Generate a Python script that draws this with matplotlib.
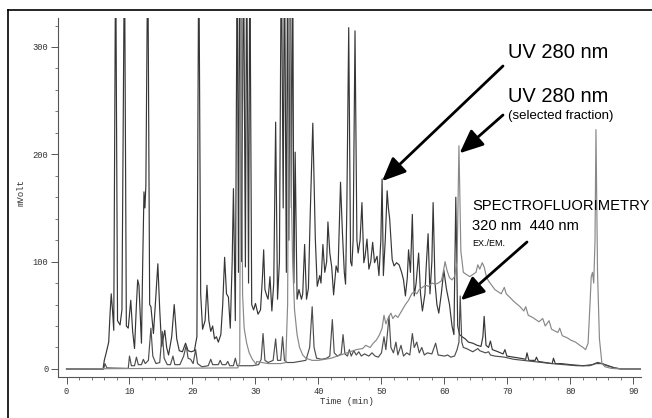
import matplotlib
matplotlib.use("Agg")
import matplotlib.pyplot as plt
from matplotlib.lines import Line2D
import numpy as np

# ---- data: vertices (time in min, signal in mVolt) ----
# UV 280 nm, whole sample (off-scale peaks are given a nominal 400 mV apex)
A_TIME = [0, 5.8, 6.0, 6.3, 6.7, 6.9, 7.1, 7.3, 7.5, 7.8, 8.1, 8.5, 8.8, 9.2, 9.5, 9.8,
          10.2, 10.5, 10.8, 11.1, 11.3, 11.5, 11.9, 12.1, 12.3, 12.45, 12.6, 12.9, 13.2,
          13.4, 13.8, 14.1, 14.5, 14.8, 15.1, 15.6, 15.9, 16.2, 16.7, 17.1, 17.5, 17.9,
          18.4, 18.9, 19.3, 19.8, 20.3, 20.7, 21.0, 21.3, 21.6, 22.0, 22.3, 22.6, 22.9,
          23.2, 23.5, 23.8, 24.1, 24.5, 24.8, 25.1, 25.4, 25.7, 26.0, 26.3, 26.5, 26.8,
          27.1, 27.3, 27.5, 27.8, 28.1, 28.4, 28.6, 28.9, 29.1, 29.4, 29.7, 30.0, 30.4,
          30.8, 31.1, 31.3, 31.5, 31.8, 32.0, 32.3, 32.6, 32.9, 33.2, 33.5, 33.8, 34.1,
          34.4, 34.6, 34.9, 35.1, 35.3, 35.5, 35.7, 35.9, 36.1, 36.3, 36.6, 36.9, 37.3,
          37.5, 37.8, 38.1, 38.4, 38.7, 39.1, 39.5, 39.8, 40.2, 40.4, 40.7, 41.0, 41.3,
          41.5, 41.8, 42.1, 42.4, 42.8, 43.1, 43.5, 43.8, 44.1, 44.3, 44.5, 44.8, 45.1,
          45.3, 45.5, 45.8, 46.1, 46.3, 46.6, 46.9, 47.2, 47.4, 47.7, 48.0, 48.3, 48.6,
          48.9, 49.3, 49.6, 49.9, 50.1, 50.3, 50.6, 50.9, 51.1, 51.3, 51.7, 52.0, 52.4,
          52.8, 53.2, 53.5, 53.8, 54.1, 54.3, 54.6, 54.9, 55.2, 55.5, 55.9, 56.2, 56.5,
          56.9, 57.1, 57.4, 57.7, 58.0, 58.2, 58.5, 58.8, 59.1, 59.5, 59.9, 60.3, 60.8,
          61.2, 61.5, 61.8, 62.1, 62.4, 62.8, 63.3, 63.8, 64.5, 65.2, 65.8, 66.1, 66.3,
          66.6, 67.0, 67.3, 67.6, 68.5, 69.3, 69.6, 69.9, 71.0, 72.0, 72.9, 73.1, 73.4,
          74.4, 74.6, 74.9, 76.0, 77.1, 77.3, 77.6, 78.5, 80.0, 82.0, 83.5, 84.3, 85.0,
          86.0, 87.0, 88.0, 91.5]
A_MV = [0, 0, 8, 15, 25, 50, 70, 55, 36, 400, 45, 41, 55, 400, 40, 38,
        64, 35, 19, 60, 83, 78, 24, 100, 165, 150, 171, 400, 60,
        58, 33, 60, 98, 55, 21, 36, 20, 13, 30, 60, 28, 17,
        16, 24, 17, 16, 17, 30, 400, 70, 37, 45, 78, 45, 35,
        40, 28, 30, 25, 32, 60, 104, 70, 67, 38, 100, 168, 45,
        400, 90, 400, 100, 400, 95, 400, 80, 400, 60, 55, 61, 51,
        55, 85, 111, 74, 68, 65, 86, 54, 80, 230, 65, 100, 400,
        150, 400, 90, 400, 120, 400, 150, 400, 80, 202, 65, 74, 65,
        70, 116, 65, 75, 146, 229, 121, 77, 87, 80, 116, 90, 100,
        137, 108, 95, 69, 96, 90, 174, 127, 90, 79, 150, 318, 100,
        96, 120, 315, 120, 108, 120, 155, 99, 105, 121, 93, 100, 118,
        99, 105, 87, 120, 177, 87, 120, 166, 150, 140, 102, 96, 99,
        97, 90, 83, 68, 85, 111, 90, 144, 68, 80, 108, 70, 54,
        70, 95, 126, 70, 100, 155, 80, 60, 52, 70, 92, 75, 60,
        40, 32, 160, 40, 32, 30, 28, 25, 24, 22, 21, 30, 49,
        22, 20, 26, 18, 16, 14, 18, 12, 11, 10, 9, 15, 8,
        8, 11, 7, 6, 5, 10, 5, 5, 4, 3, 4, 6, 5,
        3, 1, 0, 0]

# UV 280 nm, selected fraction
B_TIME = [0, 27.2, 27.5, 27.7, 27.95, 28.2, 28.6, 29.0, 29.5, 29.9, 30.1, 30.2, 31.0,
          32.0, 33.0, 34.0, 34.8, 35.1, 35.4, 35.7, 35.9, 36.2, 36.6, 37.0, 37.5, 38.0,
          39.0, 40.0, 41.0, 42.0, 43.0, 44.0, 45.0, 46.0, 47.0, 47.5, 48.2, 48.7, 49.2,
          49.7, 50.1, 50.4, 50.7, 51.1, 51.5, 51.8, 52.2, 52.6, 53.0, 53.4, 53.8, 54.3,
          54.8, 55.2, 55.6, 56.0, 56.5, 57.0, 57.5, 58.0, 58.6, 59.0, 59.5, 59.8, 60.1,
          60.4, 60.8, 61.2, 61.6, 62.0, 62.3, 62.6, 63.0, 63.5, 64.0, 64.5, 65.0, 65.3,
          65.6, 66.0, 66.3, 66.7, 67.0, 67.5, 68.0, 68.5, 69.0, 69.5, 69.8, 70.5, 71.0,
          72.0, 72.6, 72.9, 73.3, 74.0, 75.0, 75.6, 76.0, 76.6, 77.0, 78.0, 78.3, 78.7,
          79.5, 80.0, 80.8, 81.5, 82.0, 82.4, 82.8, 83.1, 83.3, 83.5, 83.7, 83.9, 84.05,
          84.3, 84.6, 85.0, 85.5, 86.5, 88.0, 91.5]
B_MV = [0, 1, 6, 400, 70, 38, 24, 15, 9, 6, 4, 7, 6,
        5, 5, 5, 6, 60, 400, 160, 100, 55, 32, 20, 13, 10,
        8, 8, 9, 10, 12, 14, 16, 18, 19, 22, 20, 24, 27,
        32, 38, 50, 42, 48, 52, 47, 50, 48, 52, 56, 60, 64,
        70, 72, 70, 74, 76, 78, 77, 80, 79, 80, 82, 90, 100,
        92, 85, 83, 86, 100, 208, 110, 90, 88, 86, 88, 90, 97,
        93, 99, 95, 85, 82, 78, 74, 72, 70, 76, 70, 66, 63,
        58, 54, 58, 50, 48, 44, 47, 40, 45, 37, 34, 38, 31,
        29, 27, 25, 22, 20, 18, 24, 60, 86, 90, 80, 120, 223,
        90, 28, 5, 2, 0.5, 0, 0]

# spectrofluorimetry, ex 320 nm / em 440 nm
C_TIME = [0, 5.9, 6.1, 6.4, 9.8, 10.0, 10.3, 10.8, 11.1, 11.4, 11.9, 12.2, 12.5, 13.0,
          13.4, 13.7, 14.2, 14.8, 15.2, 15.5, 16.0, 16.5, 16.9, 17.2, 18.0, 18.6, 19.0,
          19.3, 19.7, 20.1, 20.5, 20.8, 21.5, 22.5, 22.9, 23.2, 24.1, 24.4, 24.7, 25.3,
          25.6, 25.9, 26.5, 26.8, 27.1, 29.5, 30.5, 30.9, 31.2, 31.5, 32.0, 32.8, 33.2,
          33.5, 34.0, 34.3, 34.6, 35.0, 36.0, 37.0, 38.0, 38.6, 39.0, 39.3, 39.7, 40.5,
          41.3, 41.8, 42.2, 42.5, 43.0, 43.6, 43.9, 44.2, 44.6, 44.9, 45.2, 45.6, 46.0,
          46.4, 46.8, 47.3, 48.0, 48.5, 49.0, 49.5, 50.0, 50.4, 50.7, 51.2, 51.5, 51.9,
          52.3, 52.6, 53.1, 53.5, 54.0, 54.5, 54.9, 55.2, 55.6, 56.0, 56.4, 56.8, 57.3,
          58.0, 58.6, 59.0, 60.0, 60.5, 61.0, 61.6, 62.0, 62.3, 62.5, 62.75, 63.0, 63.5,
          64.5, 65.3, 65.6, 66.5, 67.0, 67.3, 68.0, 69.5, 71.0, 72.5, 74.0, 75.5, 77.0,
          79.0, 81.0, 83.0, 84.0, 85.0, 85.8, 87.0, 88.0, 91.5]
C_MV = [0, 0, 5, 1, 0.5, 12, 3, 3, 11, 4, 4, 9, 5, 8,
        38, 12, 5, 6, 35, 10, 4, 4, 12, 4, 4, 12, 22,
        10, 9, 5, 18, 5, 2, 3, 9, 4, 4, 8, 4, 4,
        7, 3, 3, 10, 3, 3, 4, 9, 33, 8, 6, 8, 28,
        8, 8, 30, 8, 6, 6, 7, 8, 20, 58, 20, 10, 9,
        10, 12, 46, 15, 12, 14, 32, 14, 12, 18, 12, 17, 13,
        16, 12, 14, 12, 15, 12, 11, 15, 30, 18, 49, 20, 15,
        25, 13, 22, 12, 15, 13, 33, 20, 25, 15, 20, 13, 15,
        14, 24, 13, 12, 13, 11, 12, 18, 25, 68, 25, 20, 19,
        16, 19, 17, 15, 16, 13, 12, 11, 9, 8, 7, 6, 5,
        4, 3, 3, 5, 5, 3, 1, 0, 0]

X_TICKS = [0, 10, 20, 30, 40, 50, 60, 70, 80, 90]
Y_TICKS = [0, 100, 200, 300]


def apex(times, values, lo, hi):
    t = np.asarray(times)
    v = np.asarray(values)
    m = (t >= lo) & (t <= hi)
    i = np.argmax(np.where(m, v, -1))
    return t[i], v[i]


W, H = 652, 418
fig = plt.figure(figsize=(W / 100, H / 100), dpi=100)
ax = fig.add_axes([58 / W, 1 - 377 / H, (641 - 58) / W, (377 - 18) / H])

ax.plot(A_TIME, A_MV, color="#363636", lw=0.85)
ax.plot(C_TIME, C_MV, color="#4e4e4e", lw=0.85)
ax.plot(B_TIME, B_MV, color="#888888", lw=0.85)

ax.set_xlim(-1.35, 91.2)
ax.set_ylim(-7.5, 327)
for s in ("top", "right"):
    ax.spines[s].set_visible(False)
for s in ("left", "bottom"):
    ax.spines[s].set_color("#555555")
    ax.spines[s].set_linewidth(0.8)

mono = "Liberation Mono"
ax.set_xticks(X_TICKS)
ax.set_yticks(Y_TICKS)
ax.set_xticks(np.arange(0, 92, 2), minor=True)
ax.set_yticks(np.arange(0, 321, 20), minor=True)
ax.tick_params(which="major", length=5, width=0.7, color="#555555",
               labelsize=6.3, labelcolor="#333333", pad=2)
ax.tick_params(which="minor", length=2.5, width=0.6, color="#666666")
for lab in ax.get_xticklabels() + ax.get_yticklabels():
    lab.set_family(mono)

fig.text(347 / W, 1 - 401 / H, "Time (min)", family=mono, fontsize=6.5,
         color="#333333", ha="center", va="center")
fig.text(21 / W, 1 - 193 / H, "mVolt", family=mono, fontsize=6.5,
         color="#333333", ha="center", va="center", rotation=90)

# outer frame of the scanned figure
fig.add_artist(Line2D([8 / W, 8 / W], [0, 1 - 10 / H], transform=fig.transFigure,
                      color="black", lw=1.2))
fig.add_artist(Line2D([8 / W, 1], [1 - 10 / H, 1 - 10 / H], transform=fig.transFigure,
                      color="black", lw=1.2))

sans = "Liberation Sans"
fig.text(508 / W, 1 - 53 / H, "UV 280 nm", family=sans, fontsize=14.5,
         ha="left", va="center")
fig.text(508 / W, 1 - 96 / H, "UV 280 nm", family=sans, fontsize=14.5,
         ha="left", va="center")
fig.text(508 / W, 1 - 116 / H, "(selected fraction)", family=sans, fontsize=9.5,
         ha="left", va="center")
fig.text(472 / W, 1 - 206 / H, "SPECTROFLUORIMETRY", family=sans, fontsize=10.6,
         ha="left", va="center")
fig.text(472 / W, 1 - 226 / H, "320 nm  440 nm", family=sans, fontsize=10.6,
         ha="left", va="center")
fig.text(472 / W, 1 - 243 / H, "EX./EM.", family=sans, fontsize=6.5,
         ha="left", va="center")

arrow = dict(arrowstyle="-|>,head_length=0.8,head_width=0.35", lw=2.0,
             color="black", mutation_scale=18, shrinkA=0, shrinkB=0)
ta, va_ = apex(A_TIME, A_MV, 49.5, 50.5)
ax.annotate("", xy=(ta, va_ - 2), xytext=(503 / W, 1 - 66 / H),
            textcoords="figure fraction", arrowprops=arrow)
tb, vb = apex(B_TIME, B_MV, 61.5, 63.5)
ax.annotate("", xy=(tb + 0.1, vb - 7), xytext=(503 / W, 1 - 115 / H),
            textcoords="figure fraction", arrowprops=arrow)
tc, vc = apex(C_TIME, C_MV, 62, 63)
ax.annotate("", xy=(tc + 0.1, vc - 4), xytext=(527 / W, 1 - 242 / H),
            textcoords="figure fraction", arrowprops=arrow)

fig.savefig("out.png", dpi=100)
